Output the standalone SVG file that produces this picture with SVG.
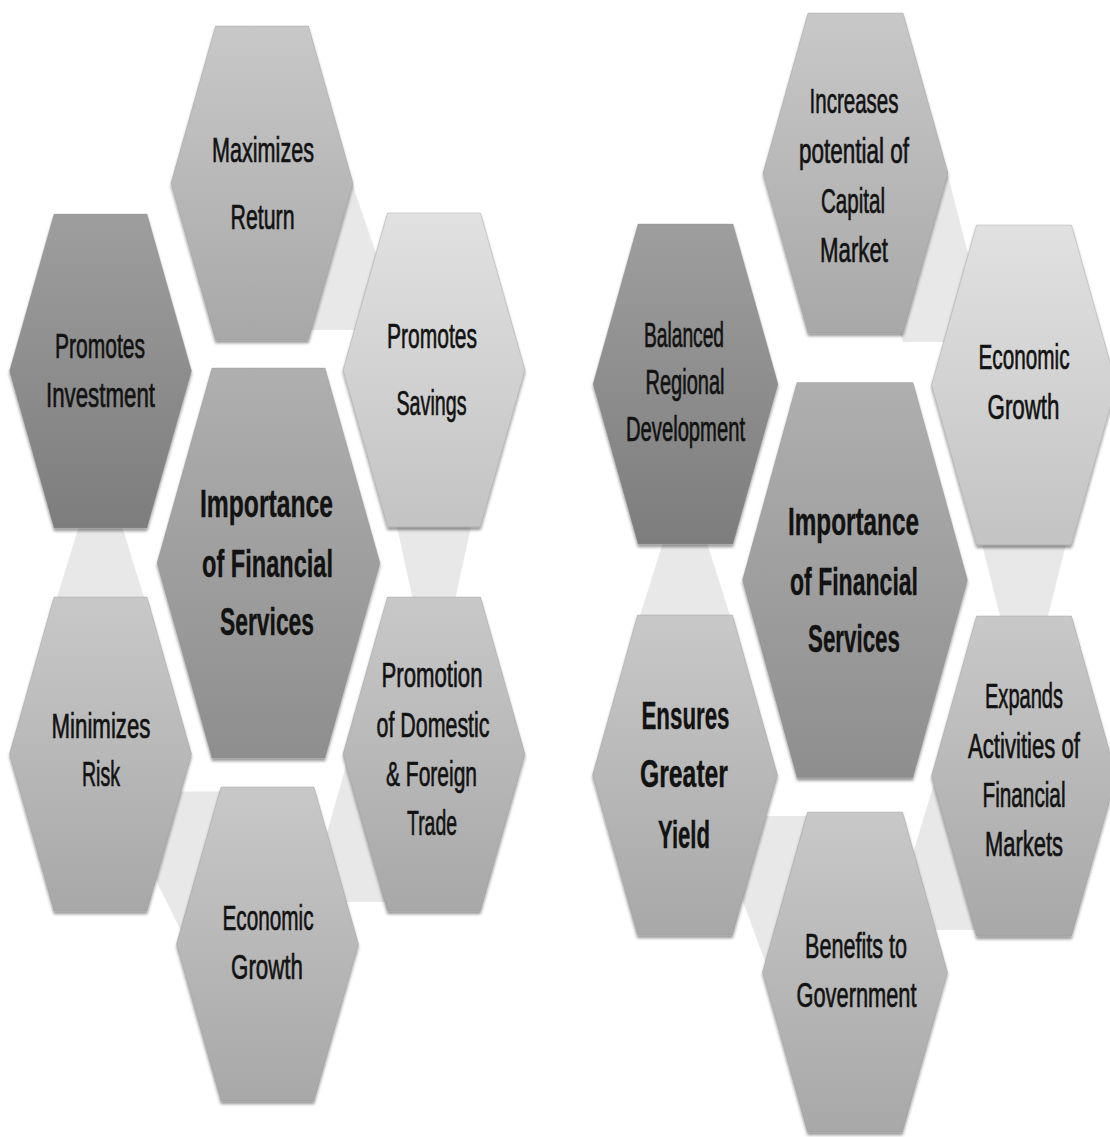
<svg xmlns="http://www.w3.org/2000/svg" width="1110" height="1137" viewBox="0 0 1110 1137">
<defs>
<linearGradient id="gMid" x1="0" y1="0" x2="0" y2="1"><stop offset="0" stop-color="#c8c8c8"/><stop offset="1" stop-color="#a8a8a8"/></linearGradient>
<linearGradient id="gDark" x1="0" y1="0" x2="0" y2="1"><stop offset="0" stop-color="#9e9e9e"/><stop offset="1" stop-color="#7d7d7d"/></linearGradient>
<linearGradient id="gLight" x1="0" y1="0" x2="0" y2="1"><stop offset="0" stop-color="#e1e1e1"/><stop offset="1" stop-color="#c3c3c3"/></linearGradient>
<linearGradient id="gCenter" x1="0" y1="0" x2="0" y2="1"><stop offset="0" stop-color="#afafaf"/><stop offset="1" stop-color="#8e8e8e"/></linearGradient>
<filter id="sh" x="-10%" y="-10%" width="120%" height="125%"><feDropShadow dx="0" dy="3" stdDeviation="1.6" flood-color="#000" flood-opacity="0.4"/></filter>
</defs>
<style>
.band{fill:#e8e8e8}
.hex{filter:url(#sh);stroke:#8f8f8f;stroke-opacity:0.35;stroke-width:1}
.mid{fill:url(#gMid)}
.dark{fill:url(#gDark)}
.light{fill:url(#gLight)}
.center{fill:url(#gCenter)}
.t{font-family:"Liberation Sans",Arial,sans-serif;font-size:36px;fill:#121212;stroke:#121212;stroke-width:0.7;text-anchor:middle}
.b{font-weight:bold;font-size:38px;stroke-width:0.4}
</style>
<rect width="1110" height="1137" fill="#ffffff"/>
<g id="connectors">
<polygon class="band" points="352,183 380,265 380,330 305,330 340,200"/>
<polygon class="band" points="395.5,520 472.5,520 454,605 414,605"/>
<polygon class="band" points="352,745 322,850 340,902 390,902 390,745"/>
<polygon class="band" points="170,791.6 225,791.6 200,900 184,937 151,870"/>
<polygon class="band" points="81,520 120,520 146.5,605 54.5,605"/>
<polygon class="band" points="948,176 975,280 975,342 903,342 900,333 938,180"/>
<polygon class="band" points="981,540 1067,540 1047,620 1001,620"/>
<polygon class="band" points="938,770 908,870 925,930 980,930 980,770"/>
<polygon class="band" points="758,816 815,816 790,900 770,975 735,880"/>
<polygon class="band" points="665.4,535 704.6,535 733,625 637,625"/>
</g>
<g id="maximizes-return">
<polygon class="hex mid" points="215.5,26 308.5,26 353,183 308.5,340 215.5,340 171,183"/>
<text class="t" transform="translate(263 161.5) scale(0.6 1)" textLength="170" lengthAdjust="spacingAndGlyphs">Maximizes</text>
<text class="t" transform="translate(262.5 229) scale(0.6 1)" textLength="106.7" lengthAdjust="spacingAndGlyphs">Return</text>
</g>
<g id="promotes-investment">
<polygon class="hex dark" points="54,214 147,214 191.5,371 147,528 54,528 9.5,371"/>
<text class="t" transform="translate(100 357.5) scale(0.6 1)" textLength="150" lengthAdjust="spacingAndGlyphs">Promotes</text>
<text class="t" transform="translate(100.5 406.5) scale(0.6 1)" textLength="181.7" lengthAdjust="spacingAndGlyphs">Investment</text>
</g>
<g id="promotes-savings">
<polygon class="hex light" points="387.5,213 480.5,213 525,370 480.5,527 387.5,527 343,370"/>
<text class="t" transform="translate(432 348) scale(0.6 1)" textLength="150" lengthAdjust="spacingAndGlyphs">Promotes</text>
<text class="t" transform="translate(431.5 414.5) scale(0.6 1)" textLength="116.7" lengthAdjust="spacingAndGlyphs">Savings</text>
</g>
<g id="importance-left">
<polygon class="hex center" points="212,368 325,368 380,563 325,758 212,758 157,563"/>
<text class="t b" transform="translate(266.5 517) scale(0.6 1)" textLength="221.7" lengthAdjust="spacingAndGlyphs">Importance</text>
<text class="t b" transform="translate(267.5 577) scale(0.6 1)" textLength="218.3" lengthAdjust="spacingAndGlyphs">of Financial</text>
<text class="t b" transform="translate(267 635) scale(0.6 1)" textLength="156.7" lengthAdjust="spacingAndGlyphs">Services</text>
</g>
<g id="minimizes-risk">
<polygon class="hex mid" points="54,597 147,597 191.5,754 147,911 54,911 9.5,754"/>
<text class="t" transform="translate(101 738) scale(0.6 1)" textLength="165" lengthAdjust="spacingAndGlyphs">Minimizes</text>
<text class="t" transform="translate(101 786) scale(0.6 1)" textLength="63.3" lengthAdjust="spacingAndGlyphs">Risk</text>
</g>
<g id="promotion-trade">
<polygon class="hex mid" points="387.5,597 480.5,597 525,754 480.5,911 387.5,911 343,754"/>
<text class="t" transform="translate(432 687) scale(0.6 1)" textLength="168.3" lengthAdjust="spacingAndGlyphs">Promotion</text>
<text class="t" transform="translate(433 736.5) scale(0.6 1)" textLength="188.3" lengthAdjust="spacingAndGlyphs">of Domestic</text>
<text class="t" transform="translate(431.5 786) scale(0.6 1)" textLength="151.7" lengthAdjust="spacingAndGlyphs">&amp; Foreign</text>
<text class="t" transform="translate(432 835) scale(0.6 1)" textLength="83.3" lengthAdjust="spacingAndGlyphs">Trade</text>
</g>
<g id="economic-growth-left">
<polygon class="hex mid" points="221,787 314,787 358.5,944 314,1101 221,1101 176.5,944"/>
<text class="t" transform="translate(268 929.5) scale(0.6 1)" textLength="151.7" lengthAdjust="spacingAndGlyphs">Economic</text>
<text class="t" transform="translate(267 979) scale(0.6 1)" textLength="120" lengthAdjust="spacingAndGlyphs">Growth</text>
</g>
<g id="increases-capital">
<polygon class="hex mid" points="808,13 903,13 948,173 903,333 808,333 763,173"/>
<text class="t" transform="translate(854 113) scale(0.6 1)" textLength="148.3" lengthAdjust="spacingAndGlyphs">Increases</text>
<text class="t" transform="translate(854 163) scale(0.6 1)" textLength="183.3" lengthAdjust="spacingAndGlyphs">potential of</text>
<text class="t" transform="translate(853 212.5) scale(0.6 1)" textLength="106.7" lengthAdjust="spacingAndGlyphs">Capital</text>
<text class="t" transform="translate(854 261.5) scale(0.6 1)" textLength="113.3" lengthAdjust="spacingAndGlyphs">Market</text>
</g>
<g id="balanced-regional">
<polygon class="hex dark" points="638,224 733,224 778,384 733,544 638,544 593,384"/>
<text class="t" transform="translate(684 347) scale(0.6 1)" textLength="133.3" lengthAdjust="spacingAndGlyphs">Balanced</text>
<text class="t" transform="translate(685 393.5) scale(0.6 1)" textLength="131.7" lengthAdjust="spacingAndGlyphs">Regional</text>
<text class="t" transform="translate(685.5 440.5) scale(0.6 1)" textLength="198.3" lengthAdjust="spacingAndGlyphs">Development</text>
</g>
<g id="economic-growth-right">
<polygon class="hex light" points="976.5,225 1071.5,225 1116.5,385 1071.5,545 976.5,545 931.5,385"/>
<text class="t" transform="translate(1024 369) scale(0.6 1)" textLength="151.7" lengthAdjust="spacingAndGlyphs">Economic</text>
<text class="t" transform="translate(1023.5 419) scale(0.6 1)" textLength="120" lengthAdjust="spacingAndGlyphs">Growth</text>
</g>
<g id="importance-right">
<polygon class="hex center" points="797,382.5 913,382.5 967.5,580 913,777.5 797,777.5 742.5,580"/>
<text class="t b" transform="translate(853.5 535) scale(0.6 1)" textLength="218.3" lengthAdjust="spacingAndGlyphs">Importance</text>
<text class="t b" transform="translate(854 595) scale(0.6 1)" textLength="213.3" lengthAdjust="spacingAndGlyphs">of Financial</text>
<text class="t b" transform="translate(854 652) scale(0.6 1)" textLength="153.3" lengthAdjust="spacingAndGlyphs">Services</text>
</g>
<g id="ensures-yield">
<polygon class="hex mid" points="637.5,615 732.5,615 777.5,775 732.5,935 637.5,935 592.5,775"/>
<text class="t b" transform="translate(685.5 728.5) scale(0.6 1)" textLength="146.7" lengthAdjust="spacingAndGlyphs">Ensures</text>
<text class="t b" transform="translate(684 786.5) scale(0.6 1)" textLength="146.7" lengthAdjust="spacingAndGlyphs">Greater</text>
<text class="t b" transform="translate(684 847.5) scale(0.6 1)" textLength="86.7" lengthAdjust="spacingAndGlyphs">Yield</text>
</g>
<g id="expands-markets">
<polygon class="hex mid" points="976.5,616 1071.5,616 1116.5,776 1071.5,936 976.5,936 931.5,776"/>
<text class="t" transform="translate(1024 708) scale(0.6 1)" textLength="130" lengthAdjust="spacingAndGlyphs">Expands</text>
<text class="t" transform="translate(1024 758) scale(0.6 1)" textLength="186.7" lengthAdjust="spacingAndGlyphs">Activities of</text>
<text class="t" transform="translate(1024 807) scale(0.6 1)" textLength="138.3" lengthAdjust="spacingAndGlyphs">Financial</text>
<text class="t" transform="translate(1024 856) scale(0.6 1)" textLength="130" lengthAdjust="spacingAndGlyphs">Markets</text>
</g>
<g id="benefits-government">
<polygon class="hex mid" points="807.5,812 902.5,812 947.5,972 902.5,1132 807.5,1132 762.5,972"/>
<text class="t" transform="translate(856 958) scale(0.6 1)" textLength="170" lengthAdjust="spacingAndGlyphs">Benefits to</text>
<text class="t" transform="translate(856.5 1007) scale(0.6 1)" textLength="200" lengthAdjust="spacingAndGlyphs">Government</text>
</g>
</svg>
